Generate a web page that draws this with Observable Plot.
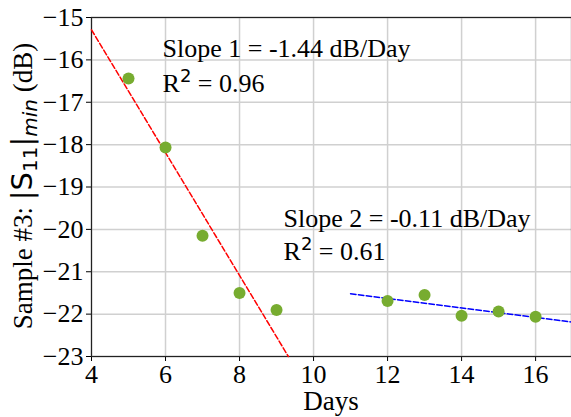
<!DOCTYPE html>
<html>
<head>
<meta charset="utf-8">
<script src="https://cdn.jsdelivr.net/npm/d3@7"></script>
<script src="https://cdn.jsdelivr.net/npm/@observablehq/plot@0.6"></script>
<style>
  html, body { margin: 0; padding: 0; background: white; }
  #chart svg { display: block; }
</style>
</head>
<body>
<div id="chart"></div>
<script>
// ---- data ----
const days1 = [5, 6, 7, 8, 9];
const s11_1 = [-16.44, -18.07, -20.15, -21.5, -21.9];
const days2 = [12, 13, 14, 15, 16];
const s11_2 = [-21.69, -21.55, -22.04, -21.94, -22.06];
const fit1X = [4, 9.32];
const fit1Y = [-15.29, -23];
const fit2X = [11, 17];
const fit2Y = [-21.52, -22.19];
const xTicks = [4, 6, 8, 10, 12, 14, 16];
const yTicks = [-23, -22, -21, -20, -19, -18, -17, -16, -15];
const noteText = ["Slope 1 = -1.44 dB/Day", "R\u00b2 = 0.96", "Slope 2 = -0.11 dB/Day", "R\u00b2 = 0.61"];
const noteX = [5.92, 5.92, 9.19, 9.19];
const noteY = [-15.94, -16.75, -19.95, -20.73];

const points = days1.concat(days2).map((d, i) => ({day: d, s11: s11_1.concat(s11_2)[i]}));
const fit1 = fit1X.map((d, i) => ({day: d, s11: fit1Y[i]}));
const fit2 = fit2X.map((d, i) => ({day: d, s11: fit2Y[i]}));
const notes = noteText.map((t, i) => ({text: t, day: noteX[i], s11: noteY[i]}));

const serif = "'Liberation Serif', 'Times New Roman', serif";
const sans = "'DejaVu Sans', sans-serif";

const chart = Plot.plot({
  width: 571,
  height: 417,
  marginLeft: 91,
  marginRight: 0,
  marginTop: 17,
  marginBottom: 61,
  style: {fontFamily: serif, fontSize: "26px", color: "black", background: "white"},
  x: {domain: [4, 16.97]},
  y: {domain: [-23, -15]},
  marks: [
    Plot.gridX(xTicks, {stroke: "#d0d0d0", strokeOpacity: 1, strokeWidth: 1.5}),
    Plot.gridY(yTicks, {stroke: "#d0d0d0", strokeOpacity: 1, strokeWidth: 1.5}),
    Plot.axisX({ticks: xTicks, tickSize: 5, tickPadding: 3, label: null, fontSize: 26}),
    Plot.axisY({ticks: yTicks, tickSize: 5, tickPadding: 3, label: null, fontSize: 26}),
    Plot.frame({stroke: "#222", strokeWidth: 1.2}),
    Plot.line(fit1, {x: "day", y: "s11", stroke: "red", strokeWidth: 1.5, strokeDasharray: "5.5,2.4"}),
    Plot.line(fit2, {x: "day", y: "s11", stroke: "blue", strokeWidth: 1.5, strokeDasharray: "5.5,2.4"}),
    Plot.dot(points, {x: "day", y: "s11", r: 6, fill: "#77ac30", stroke: "none"}),
    Plot.text(notes, {x: "day", y: "s11", text: "text", textAnchor: "start", lineAnchor: "bottom",
      fontSize: 26, fontFamily: serif, fill: "black", className: "note"})
  ]
});

document.getElementById("chart").appendChild(chart);

const svg = d3.select(chart);

// superscripts in annotations
svg.selectAll(".note text").each(function() {
  const t = this.textContent;
  if (t.startsWith("R\u00b2")) {
    const el = d3.select(this);
    el.text(null);
    el.append("tspan").text("R");
    el.append("tspan").attr("font-family", sans).attr("font-size", 18).attr("dy", -10).text("2");
    el.append("tspan").attr("dy", 10).text(t.slice(2));
  }
});

// axis labels
svg.append("text")
  .attr("x", 331).attr("y", 410)
  .attr("text-anchor", "middle")
  .attr("font-family", serif).attr("font-size", 27).attr("fill", "black")
  .text("Days");

const yl = svg.append("text")
  .attr("transform", "translate(32,186) rotate(-90)")
  .attr("text-anchor", "middle")
  .attr("font-family", serif).attr("font-size", 27).attr("fill", "black");
yl.append("tspan").text("Sample #3: ");
yl.append("tspan").attr("font-family", sans).attr("font-size", 29).text("|S");
yl.append("tspan").attr("font-family", sans).attr("font-size", 20).attr("dy", 5).text("11");
yl.append("tspan").attr("font-family", sans).attr("font-size", 29).attr("dy", -5).text("|");
yl.append("tspan").attr("font-family", sans).attr("font-style", "italic").attr("font-size", 20).attr("dy", 5).text("min");
yl.append("tspan").attr("dy", -5).text(" (dB)");
</script>
</body>
</html>
